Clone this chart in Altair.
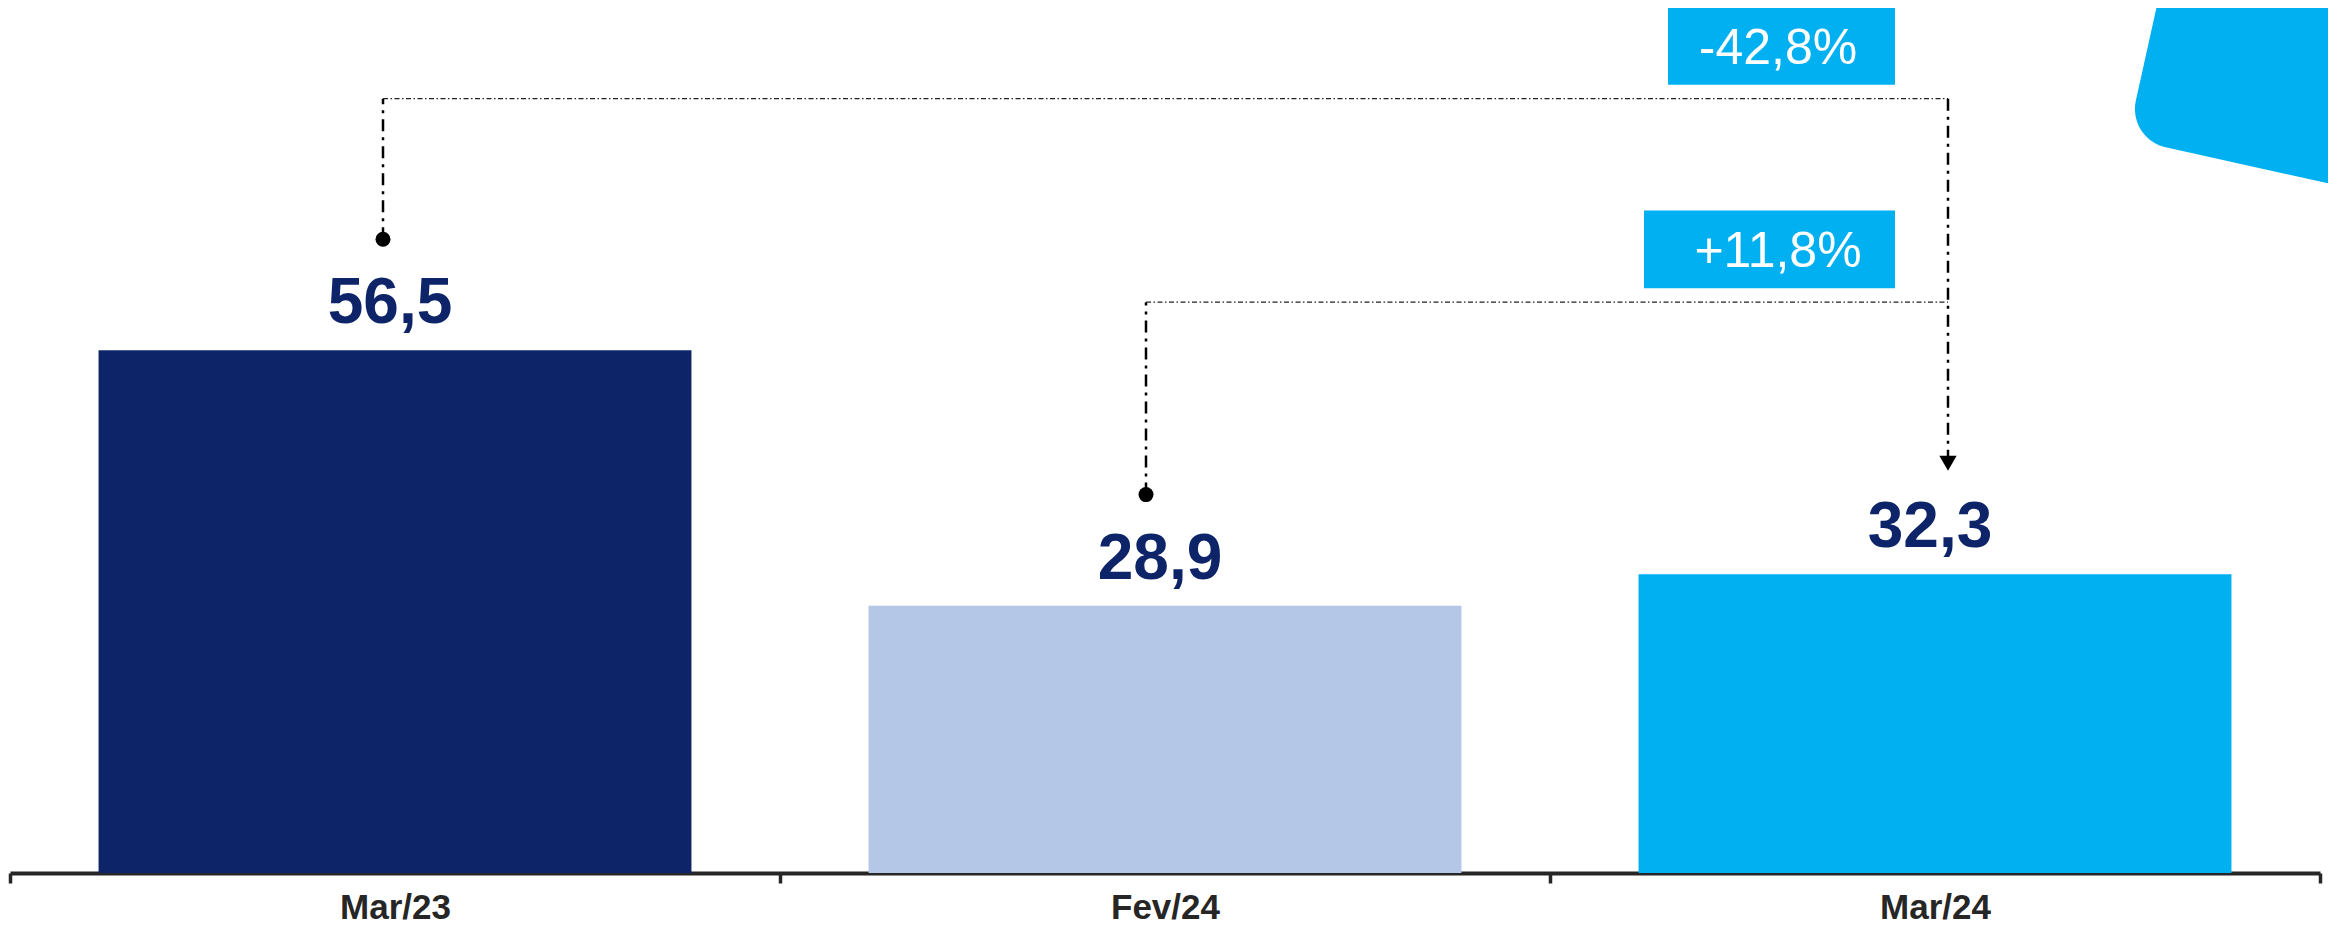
import altair as alt
import pandas as pd

# ---------------- data ----------------
categories = ["Mar/23", "Fev/24", "Mar/24"]
values = [56.5, 28.9, 32.3]
value_labels = ["56,5", "28,9", "32,3"]

change_labels = ["-42,8%", "+11,8%"]
change_from = ["Mar/23", "Fev/24"]
change_to = ["Mar/24", "Mar/24"]

# ---------------- style / layout ----------------
bar_colors = ["#0E2469", "#B4C7E7", "#00B0F0"]
ACCENT = "#00B0F0"
NAVY = "#0E2469"
AXIS_C = "#262626"
FONT = "Liberation Sans"

W, H = 2310, 865
Y_MAX = 93.5
LEVELS = [83.7, 61.7]      # heights of the connector lines (value units)
GAP = 12.0                 # dot / arrow distance above bar top (value units)
BOX_LIFT = 1.5
BOX_H = 8.4
BOX_W = [227, 251]
BOX_DX = [-153.5, -165.5]
DOT_DX = [-12, -19]
TGT_DX = 13

xscale = alt.Scale(domain=categories, paddingInner=0, paddingOuter=0)
yscale = alt.Scale(domain=[0, Y_MAX], nice=False, zero=True)
xaxis = alt.Axis(labelAngle=0, labelFont=FONT, labelFontSize=35, labelFontWeight="bold",
                 labelColor=AXIS_C, labelPadding=7, domainColor=AXIS_C, domainWidth=4,
                 tickColor=AXIS_C, tickWidth=3.5, tickSize=10, tickBand="extent", grid=False)


def X(f):
    return alt.X(f"{f}:N", scale=xscale, axis=xaxis, title=None)


def Y(f):
    return alt.Y(f"{f}:Q", scale=yscale, axis=None)


val_of = dict(zip(categories, values))
df = pd.DataFrame({"cat": categories, "value": values, "label": value_labels})

bars = alt.Chart(df).mark_bar(width=alt.RelativeBandSize(0.77)).encode(
    x=X("cat"), y=Y("value"),
    color=alt.Color("cat:N", scale=alt.Scale(domain=categories, range=bar_colors), legend=None),
)

vlabels = alt.Chart(df).mark_text(
    baseline="alphabetic", align="center", dy=-27, dx=-5,
    font=FONT, fontSize=64, fontWeight="bold", color=NAVY,
).encode(x=X("cat"), y=Y("value"), text="label:N")

layers = [bars, vlabels]

V_DASH = [12, 6, 3, 6]
H_DASH = [5, 2.5, 1.5, 2.5]

for i in range(len(change_labels)):
    src, tgt = change_from[i], change_to[i]
    lvl = LEVELS[i]
    d = pd.DataFrame({
        "src": [src], "tgt": [tgt], "level": [lvl],
        "anchor": [val_of[src] + GAP], "tip": [val_of[tgt] + GAP],
        "bbot": [lvl + BOX_LIFT], "btop": [lvl + BOX_LIFT + BOX_H],
        "bmid": [lvl + BOX_LIFT + BOX_H / 2], "label": [change_labels[i]],
    })
    base = alt.Chart(d)
    # dot at source
    layers.append(base.mark_point(shape="circle", filled=True, size=225, color="black",
                                  opacity=1, xOffset=DOT_DX[i]).encode(x=X("src"), y=Y("anchor")))
    # vertical from dot up to the level
    layers.append(base.mark_rule(color="black", strokeWidth=2.5, strokeDash=V_DASH,
                                 xOffset=DOT_DX[i]).encode(x=X("src"), y=Y("anchor"), y2=alt.Y2("level")))
    # horizontal at the level
    layers.append(base.mark_rule(color="#222222", strokeWidth=1.3, strokeDash=H_DASH,
                                 xOffset=DOT_DX[i], x2Offset=TGT_DX).encode(
        x=X("src"), x2=alt.X2("tgt"), y=Y("level")))
    if i == 0:
        layers.append(base.mark_rule(color="black", strokeWidth=2.5, strokeDash=V_DASH,
                                     xOffset=TGT_DX).encode(x=X("tgt"), y=Y("level"), y2=alt.Y2("tip")))
        layers.append(base.mark_point(shape="triangle-down", filled=True, size=300, color="black",
                                      opacity=1, xOffset=TGT_DX).encode(x=X("tgt"), y=Y("tip")))
    # label box
    layers.append(base.mark_bar(width=BOX_W[i], xOffset=BOX_DX[i], color=ACCENT).encode(
        x=X("tgt"), y=Y("btop"), y2=alt.Y2("bbot")))
    layers.append(base.mark_text(align="center", baseline="middle", dx=-157, dy=3,
                                 font=FONT, fontSize=50, color="white").encode(
        x=X("tgt"), y=Y("bmid"), text="label:N"))

# decorative rounded shape at the top right corner
k = 0.552
r = 0.32
c = 1 - r
PATH = (f"M {-c} -1 L {c} -1 C {c + r*k} -1 1 {-c - r*k} 1 {-c} "
        f"L 1 {c} C 1 {c + r*k} {c + r*k} 1 {c} 1 "
        f"L {-c} 1 C {-c - r*k} 1 -1 {c + r*k} -1 {c} "
        f"L -1 {-c} C -1 {-c - r*k} {-c - r*k} -1 {-c} -1 Z")
deco = alt.Chart(pd.DataFrame({"k": [0]})).mark_point(
    shape=PATH, size=60025, angle=12.5, filled=True, color=ACCENT, opacity=1, strokeWidth=0
).encode(x=alt.value(2263.5), y=alt.value(37.7))
layers.append(deco)

chart = alt.layer(*layers).properties(
    width=W, height=H,
    autosize=alt.AutoSizeParams(type="none"),
    padding={"left": 2, "top": 0, "right": 8, "bottom": 54},
    background="white",
).configure_view(strokeWidth=0)

chart.save("out.html", embed_options={"renderer": "svg", "actions": False})
